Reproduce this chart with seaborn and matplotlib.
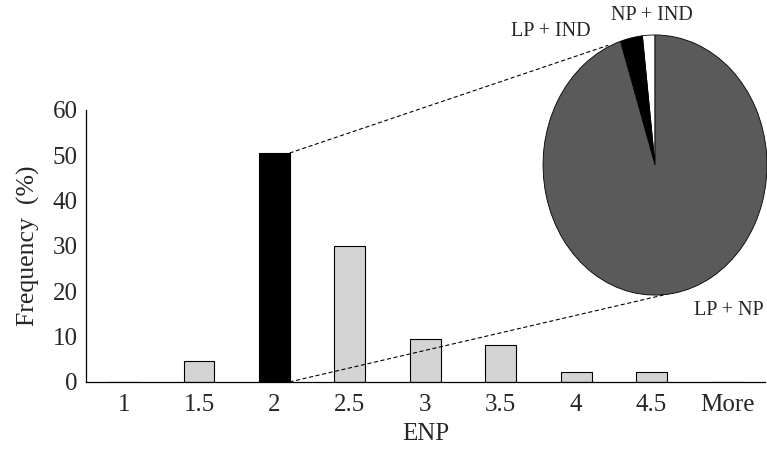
import matplotlib
matplotlib.use("Agg")
import matplotlib.pyplot as plt
import seaborn as sns
import pandas as pd
from matplotlib.patches import ConnectionPatch

categories = ["1", "1.5", "2", "2.5", "3", "3.5", "4", "4.5", "More"]
frequency = [0.0, 4.5, 50.5, 30.0, 9.5, 8.2, 2.2, 2.2, 0.0]
highlight = "2"

pie_labels = ["NP + IND", "LP + IND", "LP + NP"]
pie_shares = [1.8, 3.2, 95.0]

sns.set_theme(style="white")
plt.rcParams["font.family"] = ["Liberation Serif", "DejaVu Serif"]

df = pd.DataFrame({"ENP": categories, "Frequency": frequency})
bar_colors = ["#000000" if c == highlight else "#d4d4d4" for c in categories]

fig = plt.figure(figsize=(7.67, 4.54), dpi=100)
ax = fig.add_axes([0.112, 0.159, 0.885, 0.599])
sns.barplot(data=df, x="ENP", y="Frequency", order=categories, hue="ENP",
            palette=dict(zip(categories, bar_colors)), legend=False,
            width=0.41, edgecolor="black", linewidth=0.8, ax=ax)

ax.set_xlim(-0.5, len(categories) - 0.5)
ax.set_ylim(0, 60)
ax.set_yticks(range(0, 61, 10))
ax.tick_params(axis="y", direction="in", length=5, width=0.8, labelsize=18, pad=6)
ax.tick_params(axis="x", which="major", length=0, labelsize=18, pad=9)
ax.set_xticks([i + 0.5 for i in range(len(categories) - 1)], minor=True)
ax.tick_params(axis="x", which="minor", direction="in", length=6, width=0.8)
for s in ["top", "right"]:
    ax.spines[s].set_visible(False)
for s in ["left", "bottom"]:
    ax.spines[s].set_linewidth(0.9)
    ax.spines[s].set_color("black")
ax.set_xlabel("ENP", fontsize=18, labelpad=5)
ax.set_ylabel("Frequency  (%)", fontsize=18.5, labelpad=9)

# inset pie
pax = fig.add_axes([0.708, 0.350, 0.292, 0.573])
pax.pie(pie_shares, colors=["#ffffff", "#000000", "#5a5a5a"], startangle=90,
        counterclock=True, radius=1.0,
        wedgeprops=dict(edgecolor="black", linewidth=0.6))
pax.set_aspect("auto")
pax.set_xlim(-1.0, 1.0)
pax.set_ylim(-1.0, 1.0)
pax.axis("off")

fig.text(0.850, 0.966, pie_labels[0], fontsize=14.5, ha="center", va="center")
fig.text(0.718, 0.930, pie_labels[1], fontsize=14.5, ha="center", va="center")
fig.text(0.950, 0.317, pie_labels[2], fontsize=14.5, ha="center", va="center")

# dashed connectors from highlighted bar to pie
hi = categories.index(highlight)
bar_right = hi + 0.41 / 2
for (yv, px, py) in [(frequency[hi], 0.29, 0.96), (0.0, 0.536, 0.0)]:
    con = ConnectionPatch(xyA=(bar_right, yv), coordsA=ax.transData,
                          xyB=(px, py), coordsB=pax.transAxes,
                          linestyle=(0, (3, 3)), linewidth=0.8, color="black")
    fig.add_artist(con)

fig.savefig("out.png", dpi=100)
